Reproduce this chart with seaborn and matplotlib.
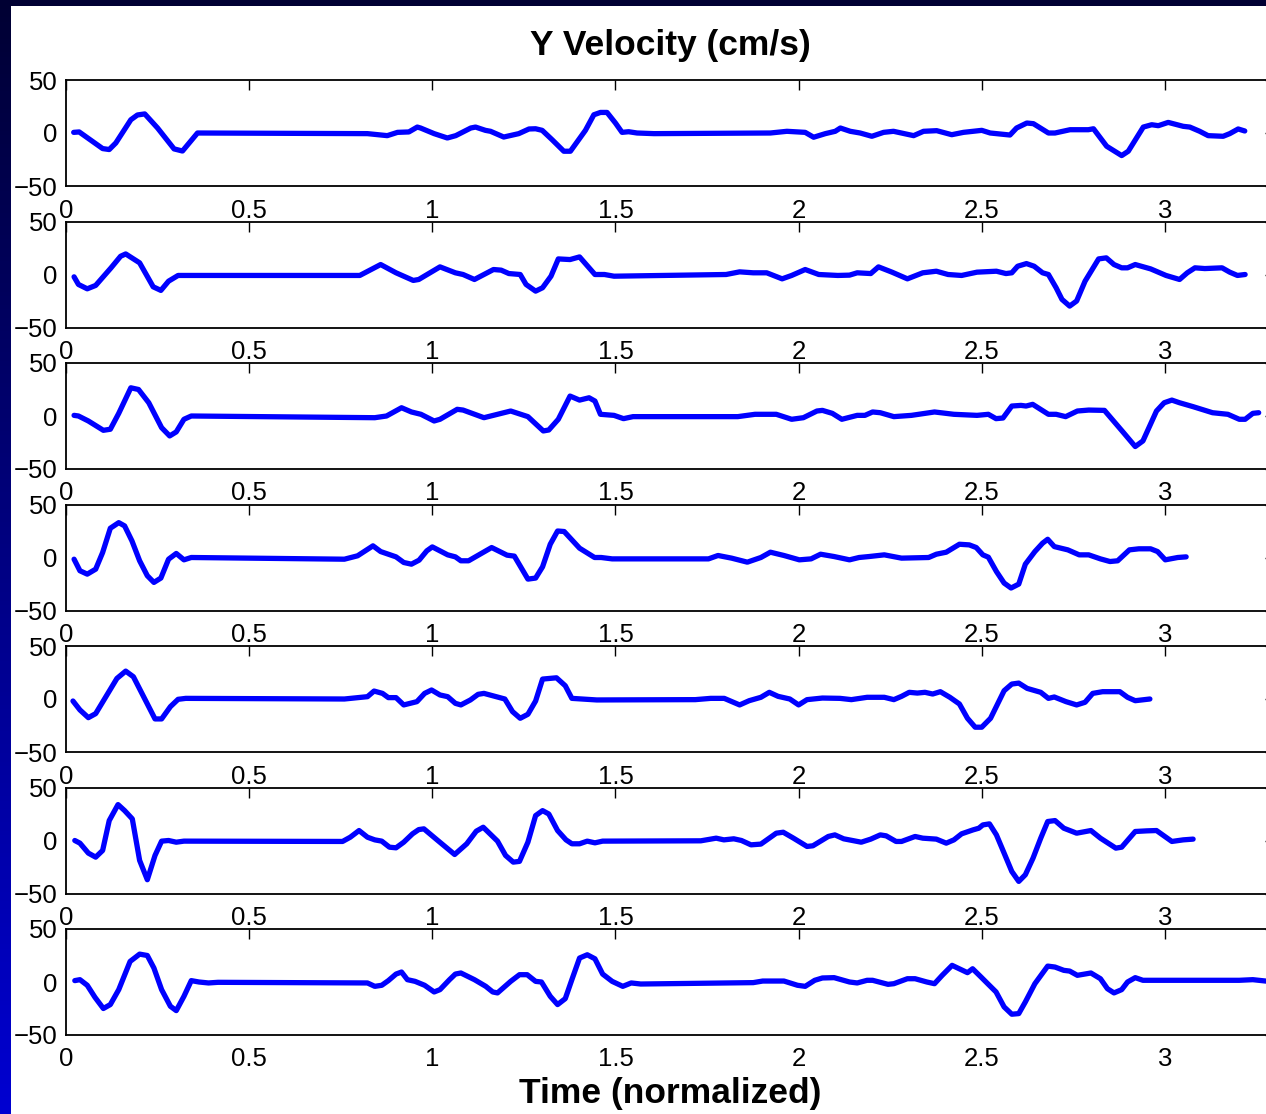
import numpy as np
import matplotlib
matplotlib.use("Agg")
import matplotlib.pyplot as plt
import seaborn as sns
from matplotlib.patches import Rectangle

# ---------------- data ----------------
t1 = [0.021, 0.036, 0.10, 0.118, 0.136, 0.177, 0.195, 0.215, 0.25, 0.295, 0.318, 0.359, 0.823, 0.877, 0.905, 0.936, 0.959,
      0.968, 1.005, 1.041, 1.064, 1.105, 1.118, 1.145, 1.159, 1.195, 1.236, 1.264, 1.282, 1.30, 1.327, 1.359, 1.377, 1.418,
      1.441, 1.459, 1.477, 1.50, 1.518, 1.536, 1.559, 1.605, 1.923, 1.968, 2.018, 2.041, 2.073, 2.10, 2.114, 2.141, 2.168,
      2.20, 2.232, 2.259, 2.314, 2.341, 2.377, 2.418, 2.45, 2.50, 2.523, 2.577, 2.595, 2.623, 2.641, 2.682, 2.70, 2.741,
      2.791, 2.805, 2.841, 2.882, 2.90, 2.941, 2.964, 2.982, 3.009, 3.05, 3.068, 3.095, 3.118, 3.159, 3.177, 3.20, 3.218]
v1 = [0.6, 1, -14.7, -15.6, -9.4, 12.5, 17, 18, 4.7, -15, -17, 0, -0.6, -2.5, 0.6, 1, 5.6,
      4.7, -0.6, -4.7, -2.5, 4.7, 5.6, 2.5, 1.6, -3.8, -0.6, 3.8, 4, 2.5, -6.3, -17.2, -17.2, 2.5,
      17.2, 19.4, 19.4, 9.4, 0.6, 1.2, 0, -0.6, 0, 1.6, 0.6, -4, -0.6, 1.6, 4.7, 1.6, 0,
      -3.1, 0.6, 1.6, -2.5, 1.6, 2.2, -1.6, 0.6, 2.5, 0, -1.9, 4.7, 9.4, 8.8, 0, 0, 3.1,
      3.1, 4, -12.5, -21.3, -17.2, 5.6, 7.8, 6.9, 10, 6.3, 5.6, 1.6, -2.5, -3.1, -0.6, 3.8, 1.9]

t2 = [0.022, 0.034, 0.058, 0.081, 0.123, 0.149, 0.163, 0.201, 0.238, 0.259, 0.28, 0.306, 0.802, 0.859, 0.901, 0.948,
      0.963, 1.021, 1.063, 1.084, 1.115, 1.167, 1.188, 1.209, 1.24, 1.256, 1.282, 1.301, 1.324, 1.344, 1.376, 1.402,
      1.444, 1.47, 1.496, 1.802, 1.839, 1.876, 1.913, 1.955, 1.981, 2.018, 2.055, 2.107, 2.139, 2.16, 2.197, 2.218,
      2.255, 2.297, 2.339, 2.376, 2.408, 2.445, 2.487, 2.54, 2.566, 2.582, 2.598, 2.622, 2.643, 2.666, 2.682, 2.703,
      2.719, 2.74, 2.759, 2.782, 2.819, 2.84, 2.861, 2.882, 2.898, 2.919, 2.961, 3.003, 3.04, 3.061, 3.082, 3.109,
      3.156, 3.177, 3.198, 3.219]
v2 = [-2.2, -9.4, -13.5, -10.3, 6.3, 17.2, 19.4, 11, -11.6, -15, -6.3, -0.9, -0.9, 9.4, 1.6, -5.6,
      -4.7, 7.2, 1.6, 0, -4.7, 4.7, 4.1, 0.9, 0, -9.4, -15.7, -12.5, -1.6, 14.7, 14.1, 16.6,
      0, 0, -1.6, 0, 2.5, 1.6, 1.6, -4.1, -0.9, 4.7, 0, -0.9, -0.6, 1.6, 0.9, 7.2,
      2.2, -4.1, 1.6, 3.1, 0, -0.9, 2.2, 3.1, 0.9, 1.6, 7.8, 10.3, 7.8, 1.6, 0, -12.5,
      -23.5, -29.8, -25, -6.3, 14.7, 15.7, 9.4, 6.3, 6.3, 9.4, 5.3, -0.9, -4.7, 1.6, 6.3, 5.6,
      6.3, 2.2, -0.9, 0]

t3 = [0.022, 0.034, 0.061, 0.102, 0.121, 0.144, 0.177, 0.198, 0.226, 0.261, 0.283, 0.301, 0.322, 0.342, 0.843, 0.875,
      0.916, 0.943, 0.969, 1.005, 1.021, 1.068, 1.084, 1.141, 1.214, 1.261, 1.303, 1.318, 1.344, 1.376, 1.402, 1.428,
      1.444, 1.459, 1.496, 1.522, 1.548, 1.834, 1.881, 1.939, 1.981, 2.013, 2.05, 2.065, 2.092, 2.118, 2.16, 2.181,
      2.202, 2.223, 2.26, 2.308, 2.371, 2.424, 2.487, 2.518, 2.539, 2.558, 2.582, 2.607, 2.621, 2.639, 2.682, 2.703,
      2.729, 2.761, 2.792, 2.835, 2.887, 2.919, 2.94, 2.977, 2.998, 3.019, 3.04, 3.077, 3.13, 3.172, 3.203, 3.219,
      3.24, 3.256]
v3 = [0.6, 0, -4.7, -13.5, -12.5, 2.5, 26.6, 25, 12.5, -11, -18.8, -15, -3.1, 0, -1.6, 0,
      7.8, 3.8, 1.6, -4.7, -3.1, 6.3, 5.6, -1.6, 4.7, -0.6, -14.1, -13.2, -3.1, 18.8, 15, 17.2,
      14.1, 1.6, 0.6, -2.5, -0.6, -0.6, 1.6, 1.6, -3.1, -1.6, 4.7, 5.3, 2.5, -3.1, 0.6, 0.6,
      3.8, 3.1, -0.6, 0.6, 3.8, 1.6, 0.6, 1.6, -2.5, -1.9, 9.4, 10, 9.4, 11, 1.6, 1.6,
      -0.6, 4.7, 5.6, 5.3, -15.7, -28.8, -23.5, 4.7, 12.5, 15, 12.5, 8.8, 3.1, 1.6, -3.1, -3.1,
      2.5, 3.1]

t4 = [0.022, 0.038, 0.058, 0.081, 0.10, 0.121, 0.144, 0.16, 0.18, 0.201, 0.222, 0.24, 0.259, 0.28, 0.301, 0.322,
      0.342, 0.76, 0.796, 0.838, 0.859, 0.901, 0.922, 0.943, 0.964, 0.985, 1.0, 1.042, 1.063, 1.078, 1.099, 1.162,
      1.204, 1.224, 1.261, 1.282, 1.301, 1.322, 1.342, 1.36, 1.402, 1.443, 1.461, 1.491, 1.754, 1.78, 1.817, 1.86,
      1.897, 1.923, 1.96, 2.002, 2.034, 2.06, 2.097, 2.139, 2.165, 2.192, 2.234, 2.281, 2.355, 2.376, 2.403, 2.439,
      2.466, 2.485, 2.503, 2.518, 2.54, 2.561, 2.58, 2.601, 2.619, 2.645, 2.666, 2.68, 2.698, 2.735, 2.766, 2.792,
      2.824, 2.85, 2.871, 2.903, 2.929, 2.961, 2.98, 3.001, 3.035, 3.058]
v4 = [-1.6, -12.5, -15.7, -11, 4.7, 27.6, 32.9, 29.8, 15.7, -3.1, -17.2, -23.5, -19.4, -1.6, 3.8, -2.2,
      0, -1.6, 1.6, 11, 5.6, 0.6, -4.7, -6.3, -2.5, 6.3, 10, 2.5, 0.6, -3.1, -3.1, 9.4,
      2.2, 1.3, -20.4, -19.4, -8.8, 12.5, 25, 24.5, 8.8, 0, 0, -1.3, -1.3, 1.9, -0.6, -4.4,
      0, 5, 1.9, -2.2, -1.3, 3.1, 0.9, -2.2, 0, 0.9, 2.5, -0.6, 0, 3.1, 5, 12.5,
      11.9, 9.4, 2.5, 0.3, -13.2, -24.1, -28.8, -25.1, -6.3, 5.6, 13.5, 17.2, 10.3, 7.2, 2.5, 2.5,
      -1.3, -3.8, -3.1, 7.2, 8.2, 8.2, 5.6, -2.2, 0, 0.6]

t5 = [0.019, 0.038, 0.061, 0.081, 0.139, 0.163, 0.184, 0.243, 0.261, 0.285, 0.306, 0.327, 0.76, 0.823, 0.841, 0.864,
      0.88, 0.901, 0.922, 0.958, 0.979, 0.998, 1.021, 1.042, 1.063, 1.078, 1.104, 1.125, 1.141, 1.198, 1.219, 1.24,
      1.261, 1.282, 1.301, 1.339, 1.363, 1.381, 1.449, 1.718, 1.76, 1.797, 1.839, 1.865, 1.897, 1.92, 1.944, 1.976,
      2.0, 2.023, 2.065, 2.113, 2.144, 2.187, 2.234, 2.26, 2.281, 2.302, 2.324, 2.345, 2.366, 2.387, 2.413, 2.439,
      2.461, 2.482, 2.5, 2.524, 2.561, 2.582, 2.601, 2.624, 2.661, 2.682, 2.698, 2.73, 2.759, 2.782, 2.803, 2.83,
      2.877, 2.898, 2.919, 2.959]
v5 = [-1.9, -10.3, -17.6, -13.8, 19.4, 26.3, 21, -18.8, -18.8, -7.2, -0.3, 0.6, 0, 2.2, 7.5, 5.3,
      1.3, 1.3, -5.6, -2.5, 5.3, 8.5, 3.8, 2.2, -4.1, -5.6, -0.9, 4.4, 5.3, 0, -11.9, -18.2,
      -14.4, -1.9, 18.8, 20, 12.5, 0.6, -0.9, -0.6, 0.6, 0.6, -5.6, -1.6, 1.6, 6.3, 2.5, 0,
      -5.6, -0.6, 0.9, 0.6, -0.6, 1.6, 1.6, -0.6, 2.5, 6.3, 5.6, 6.3, 4.7, 6.9, 1.6, -4.7,
      -18.2, -26.6, -26.6, -18.2, 7.8, 14.1, 15, 10, 6.3, 0.6, 1.9, -2.5, -5.6, -3.1, 5.3, 6.9,
      6.9, 1.6, -1.6, 0]

t6 = [0.024, 0.038, 0.061, 0.081, 0.10, 0.118, 0.142, 0.16, 0.181, 0.201, 0.222, 0.243, 0.261, 0.28, 0.301, 0.322,
      0.755, 0.776, 0.80, 0.823, 0.843, 0.862, 0.883, 0.901, 0.922, 0.946, 0.963, 0.977, 1.015, 1.061, 1.094, 1.12,
      1.139, 1.178, 1.20, 1.221, 1.238, 1.261, 1.282, 1.301, 1.318, 1.342, 1.365, 1.381, 1.402, 1.423, 1.444, 1.465,
      1.733, 1.775, 1.796, 1.823, 1.844, 1.87, 1.897, 1.939, 1.958, 1.986, 2.023, 2.039, 2.081, 2.099, 2.123, 2.171,
      2.197, 2.223, 2.239, 2.266, 2.281, 2.318, 2.339, 2.376, 2.403, 2.424, 2.445, 2.476, 2.492, 2.503, 2.521, 2.54,
      2.561, 2.582, 2.601, 2.619, 2.64, 2.661, 2.68, 2.70, 2.724, 2.759, 2.798, 2.824, 2.866, 2.882, 2.919, 2.951,
      2.977, 3.019, 3.05, 3.077]
v6 = [0, -2.5, -11.9, -15.7, -9.4, 18.8, 33.9, 28.2, 20.4, -18.8, -37, -14.1, -0.6, 0, -1.6, -0.6,
      -0.9, 3.1, 9.4, 3.1, 0.6, -0.6, -6.3, -6.9, -1.6, 6.3, 10.3, 11, 0, -13.2, -3.1, 8.8,
      12.5, -0.6, -14.1, -20.4, -19.7, -1.6, 23.5, 28.2, 25, 9.4, 0.6, -3.1, -3.1, -0.6, -2.2, -0.6,
      -0.3, 2.2, 0.6, 1.6, 0, -4.1, -3.4, 6.9, 7.8, 2.2, -5.6, -5, 3.8, 5.3, 1.6, -1.6,
      1.3, 5.3, 4.4, -0.9, -0.9, 3.8, 2.2, 1.3, -2.5, 0.6, 6.3, 10, 11.6, 14.7, 15.7, 5.3,
      -11.9, -29.2, -38.6, -32.3, -16.6, 2.2, 17.9, 18.8, 11.6, 6.9, 9.4, 2.2, -7.2, -6.3, 8.5, 9.1,
      9.4, -0.9, 0.6, 1.3]

t7 = [0.024, 0.038, 0.058, 0.079, 0.102, 0.121, 0.144, 0.175, 0.201, 0.222, 0.24, 0.261, 0.285, 0.301, 0.322, 0.342,
      0.363, 0.389, 0.415, 0.823, 0.843, 0.862, 0.88, 0.901, 0.916, 0.932, 0.953, 0.979, 1.005, 1.021, 1.047, 1.063,
      1.078, 1.115, 1.146, 1.165, 1.178, 1.214, 1.238, 1.259, 1.282, 1.298, 1.322, 1.342, 1.363, 1.381, 1.402, 1.423,
      1.444, 1.465, 1.491, 1.52, 1.543, 1.569, 1.876, 1.902, 1.96, 1.997, 2.018, 2.044, 2.065, 2.097, 2.139, 2.16,
      2.187, 2.202, 2.244, 2.26, 2.297, 2.318, 2.35, 2.371, 2.392, 2.419, 2.461, 2.475, 2.498, 2.518, 2.539, 2.561,
      2.582, 2.601, 2.619, 2.645, 2.68, 2.70, 2.724, 2.74, 2.761, 2.798, 2.824, 2.843, 2.861, 2.882, 2.898, 2.919,
      2.94, 3.098, 3.203, 3.24, 3.275]
v7 = [1.3, 2.2, -3.1, -14.4, -25, -21.3, -7.2, 19.4, 26.3, 25, 13.2, -7.2, -22.9, -27, -13.5, 1.3,
      0, -0.9, -0.3, -0.9, -4.1, -3.1, 1.3, 7.5, 9.4, 2.2, 0.6, -3.1, -9.4, -7.2, 2.2, 7.5,
      8.5, 2.2, -4.1, -9.4, -10.3, 0.6, 6.9, 6.9, 0.6, 0, -13.5, -21.3, -15.7, 2.2, 22.6, 25.7,
      21.9, 7.5, 0.6, -4.1, -0.9, -1.9, -0.6, 0.9, 0.9, -3.1, -4.1, 1.6, 3.8, 4.1, 0, -0.9,
      1.6, 1.6, -2.2, -1.6, 3.1, 3.1, 0, -1.6, 6.3, 15.7, 8.8, 12.5, 4.7, -2.2, -9.4, -23.5,
      -30.4, -29.8, -18.8, -1.6, 15, 14.1, 11, 10.3, 6.3, 8.5, 3.1, -6.3, -10.3, -7.2, 0, 4.1,
      1.6, 1.6, 1.6, 2.2, 0.9]

series_t = [t1, t2, t3, t4, t5, t6, t7]
series_v = [v1, v2, v3, v4, v5, v6, v7]

x_ticks = [0, 0.5, 1, 1.5, 2, 2.5, 3]
x_ticklabels = ["0", "0.5", "1", "1.5", "2", "2.5", "3"]
y_ticks = [-50, 0, 50]
y_ticklabels = ["\u221250", "0", "50"]
title_text = "Y Velocity (cm/s)"
xlabel_text = "Time (normalized)"

# ---------------- figure ----------------
sns.set_style("white")
plt.rcParams["font.family"] = ["Liberation Sans", "DejaVu Sans"]

W, H = 1266, 1114
fig = plt.figure(figsize=(W / 100, H / 100), dpi=100)
fig.patch.set_facecolor("white")

# slide-like frame: dark top strip and blue gradient strip on the left
fig.patches.append(Rectangle((0, 1 - 6 / H), 1, 6 / H, transform=fig.transFigure,
                             facecolor="#000033", edgecolor="none", zorder=0))
bg = fig.add_axes([0, 0, 11 / W, 1])
grad = np.linspace(0, 1, 256)[:, None]
cols = np.zeros((256, 1, 3))
cols[:, 0, 2] = 0.2 + 0.62 * grad[:, 0]
bg.imshow(cols, aspect="auto", extent=[0, 1, 0, 1])
bg.set_axis_off()

x_left_px, x_right_px = 66, 1274.8
panel_h = 106
for i, (t, v) in enumerate(zip(series_t, series_v)):
    top_px = 80 + 141.5 * i
    ax = fig.add_axes([x_left_px / W, 1 - (top_px + panel_h) / H,
                       (x_right_px - x_left_px) / W, panel_h / H])
    sns.lineplot(x=t, y=v, ax=ax, color="#0000FF", linewidth=3.8,
                 sort=False, estimator=None)
    ax.set_xlim(0, 3.3)
    ax.set_ylim(-50, 50)
    ax.set_xticks(x_ticks)
    ax.set_xticklabels(x_ticklabels)
    ax.set_yticks(y_ticks)
    ax.set_yticklabels(y_ticklabels)
    ax.tick_params(direction="in", top=True, right=True, length=7.5, width=1.0,
                   labelsize=18.5, colors="black", pad=9)
    ax.tick_params(axis="y", pad=6)
    for s in ax.spines.values():
        s.set_visible(True)
        s.set_color("black")
        s.set_linewidth(1.3)
    ax.set_facecolor("white")
    ax.set_xlabel("")
    ax.set_ylabel("")

fig.text(670 / W, 1 - 45 / H, title_text, ha="center", va="center",
         fontsize=25.5, fontweight="bold", color="black")
fig.text(670 / W, 1 - 1093 / H, xlabel_text, ha="center", va="center",
         fontsize=25.5, fontweight="bold", color="black")

fig.savefig("out.png", dpi=100, facecolor="white")
